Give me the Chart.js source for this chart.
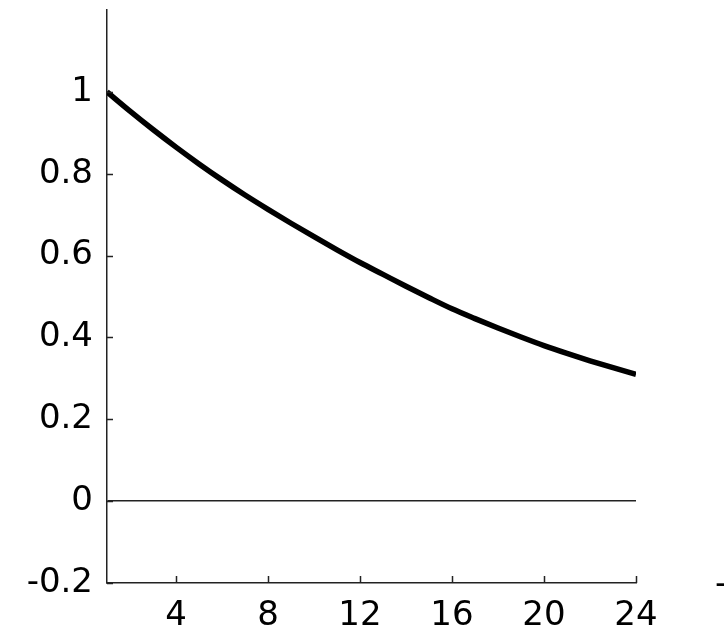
<!DOCTYPE html>
<html lang="en">
<head>
    <meta charset="UTF-8">
    <title>Decay curve</title>
    <style>
        html, body {
            margin: 0;
            padding: 0;
            background: #fff;
            overflow: hidden;
        }
        #wrap {
            width: 724px;
            height: 630px;
        }
    </style>
    <script src="https://cdn.jsdelivr.net/npm/chart.js"></script>
</head>
<body>
    <div id="wrap">
        <canvas id="chart" width="724" height="630"></canvas>
    </div>

    <script>
        // values
        const xValues = [1, 2, 3, 4, 5, 6, 7, 8, 9, 10, 11, 12, 13, 14, 15, 16, 17, 18, 19, 20, 21, 22, 23, 24];
        const yValues = [1.000, 0.953, 0.908, 0.865, 0.824, 0.785, 0.748, 0.713, 0.679, 0.646, 0.614, 0.583,
                         0.554, 0.525, 0.497, 0.470, 0.446, 0.423, 0.401, 0.380, 0.361, 0.343, 0.326, 0.310];
        const xTickValues = [4, 8, 12, 16, 20, 24];
        const yTickValues = [-0.2, 0, 0.2, 0.4, 0.6, 0.8, 1];

        const fontFamily = '"DejaVu Sans", sans-serif';

        // small ticks pointing into the plot, plus the clipped "-" at the right edge
        const innerTicks = {
            id: 'innerTicks',
            afterDraw(chart) {
                const ctx = chart.ctx;
                const xs = chart.scales.x;
                const ys = chart.scales.y;
                ctx.save();
                ctx.strokeStyle = '#222';
                ctx.lineWidth = 1.5;
                ctx.beginPath();
                yTickValues.forEach(v => {
                    const py = Math.round(ys.getPixelForValue(v)) + 0.5;
                    ctx.moveTo(xs.left, py);
                    ctx.lineTo(xs.left + 6, py);
                });
                xTickValues.forEach(v => {
                    const px = Math.round(xs.getPixelForValue(v)) + 0.5;
                    ctx.moveTo(px, ys.bottom);
                    ctx.lineTo(px, ys.bottom - 7);
                });
                ctx.stroke();

                ctx.fillStyle = '#000';
                ctx.font = '34px ' + fontFamily;
                ctx.textAlign = 'left';
                ctx.textBaseline = 'middle';
                ctx.fillText('-', chart.width - 9, ys.getPixelForValue(-0.2) + 2);
                ctx.restore();
            }
        };

        const chart = new Chart(document.getElementById('chart'), {
            type: 'line',
            data: {
                datasets: [{
                    data: xValues.map((x, i) => ({ x: x, y: yValues[i] })),
                    borderColor: '#000',
                    borderWidth: 5.5,
                    pointRadius: 0,
                    fill: false,
                    cubicInterpolationMode: 'monotone',
                }]
            },
            options: {
                responsive: false,
                animation: false,
                layout: {
                    padding: { top: 10, right: 88, left: 0, bottom: 0 }
                },
                plugins: {
                    legend: { display: false },
                    tooltip: { enabled: false },
                },
                scales: {
                    x: {
                        type: 'linear',
                        min: 1,
                        max: 24,
                        afterBuildTicks: (scale) => {
                            scale.ticks = xTickValues.map(v => ({ value: v }));
                        },
                        afterFit: (scale) => {
                            scale.height = 47;
                            scale.paddingLeft = 0;
                            scale.paddingRight = 0;
                        },
                        grid: { display: false, drawTicks: false },
                        border: { display: true, color: '#222', width: 1.5 },
                        ticks: {
                            color: '#000',
                            padding: 13,
                            maxRotation: 0,
                            font: { family: fontFamily, size: 34 },
                        },
                    },
                    y: {
                        type: 'linear',
                        min: -0.2,
                        max: 1.2,
                        afterBuildTicks: (scale) => {
                            scale.ticks = yTickValues.map(v => ({ value: v }));
                        },
                        afterFit: (scale) => {
                            scale.width = 107;
                            scale.paddingTop = 0;
                            scale.paddingBottom = 0;
                        },
                        grid: {
                            drawTicks: false,
                            color: (c) => (c.tick && Math.abs(c.tick.value) < 1e-9) ? '#222' : 'rgba(0,0,0,0)',
                            lineWidth: 1.5,
                        },
                        border: { display: true, color: '#222', width: 1.5 },
                        ticks: {
                            color: '#000',
                            padding: 14,
                            font: { family: fontFamily, size: 34 },
                            callback: (v) => String(Math.round(v * 10) / 10),
                        },
                    },
                },
            },
            plugins: [innerTicks],
        });
    </script>
</body>
</html>
